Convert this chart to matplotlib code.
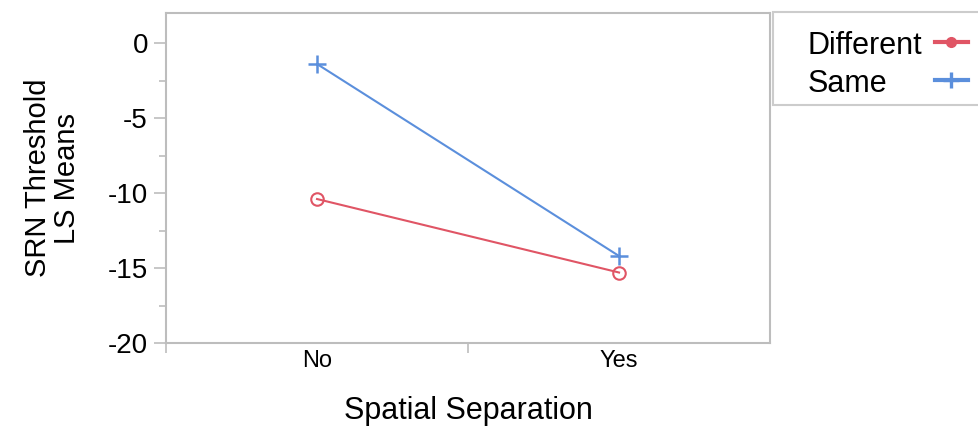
import numpy as np
import matplotlib
matplotlib.use("Agg")
import matplotlib.pyplot as plt
from matplotlib.lines import Line2D
from matplotlib.patches import Rectangle

plt.rcParams['font.family'] = ['Liberation Sans', 'DejaVu Sans']

# LS means by spatial separation and talker condition
categories = ["No", "Yes"]
series_names = ["Different", "Same"]
different = [-10.4, -15.3]
same = [-1.4, -14.2]

RED = "#e05565"
BLUE = "#5b8fdc"
GRAY = "#bdbdbd"

fig = plt.figure(figsize=(9.79, 4.26), dpi=100)
ax = fig.add_axes([0.1696, 0.1948, 0.617, 0.7746])

x = np.arange(len(categories))
ax.plot(x, different, color=RED, lw=1.5, marker="o", ms=9, mfc="none",
        mec=RED, mew=1.5)
ax.plot(x, same, color=BLUE, lw=1.5, marker="+", ms=13, mew=1.8)

ax.set_xlim(-0.5, 1.5)
ax.set_ylim(-20, 2)

# y axis: labelled majors every 5 with minors in between
ax.set_yticks([0, -5, -10, -15, -20])
ax.set_yticklabels(["0", "-5", "-10", "-15", "-20"])
ax.set_yticks([-2.5, -7.5, -12.5, -17.5], minor=True)
ax.tick_params(axis="y", which="major", length=9, width=1.2, color=GRAY,
               labelsize=20, pad=4)
ax.tick_params(axis="y", which="minor", length=5, width=1.2, color=GRAY)

# x axis: ticks mark the category boundaries, labels sit in between
ax.set_xticks([-0.5, 0.5])
ax.set_xticklabels([])
ax.set_xticks(x, minor=True)
ax.set_xticklabels(categories, minor=True)
ax.tick_params(axis="x", which="major", length=7, width=1.2, color=GRAY)
ax.tick_params(axis="x", which="minor", length=0, labelsize=17, pad=5)

for sp in ax.spines.values():
    sp.set_color(GRAY)
    sp.set_linewidth(1.5)

ax.set_xlabel("Spatial Separation", fontsize=22, labelpad=17)
ax.set_ylabel("SRN Threshold\nLS Means", fontsize=21, labelpad=19,
              linespacing=1.05)

# legend box on the right, text left-aligned with the line swatch after it
W, H = 979.0, 426.0
fig.add_artist(Rectangle((773 / W, 1 - 105 / H), 230 / W, 93 / H,
                         transform=fig.transFigure, facecolor="white",
                         edgecolor="#cccccc", lw=1.5, clip_on=False))
markers = [dict(marker="o", ms=7, mfc=RED, mec=RED),
           dict(marker="+", ms=12, mew=2.4, mec=BLUE)]
colors = [RED, BLUE]
for i, (name, col, mk) in enumerate(zip(series_names, colors, markers)):
    yc = 1 - (42 + 38 * i) / H
    fig.text(808 / W, yc, name, fontsize=22, ha="left", va="center_baseline")
    fig.add_artist(Line2D([935 / W, 968 / W], [yc, yc], lw=3, color=col,
                          transform=fig.transFigure))
    fig.add_artist(Line2D([951.5 / W], [yc], lw=0,
                          transform=fig.transFigure, **mk))

fig.savefig("out.png", dpi=100)
